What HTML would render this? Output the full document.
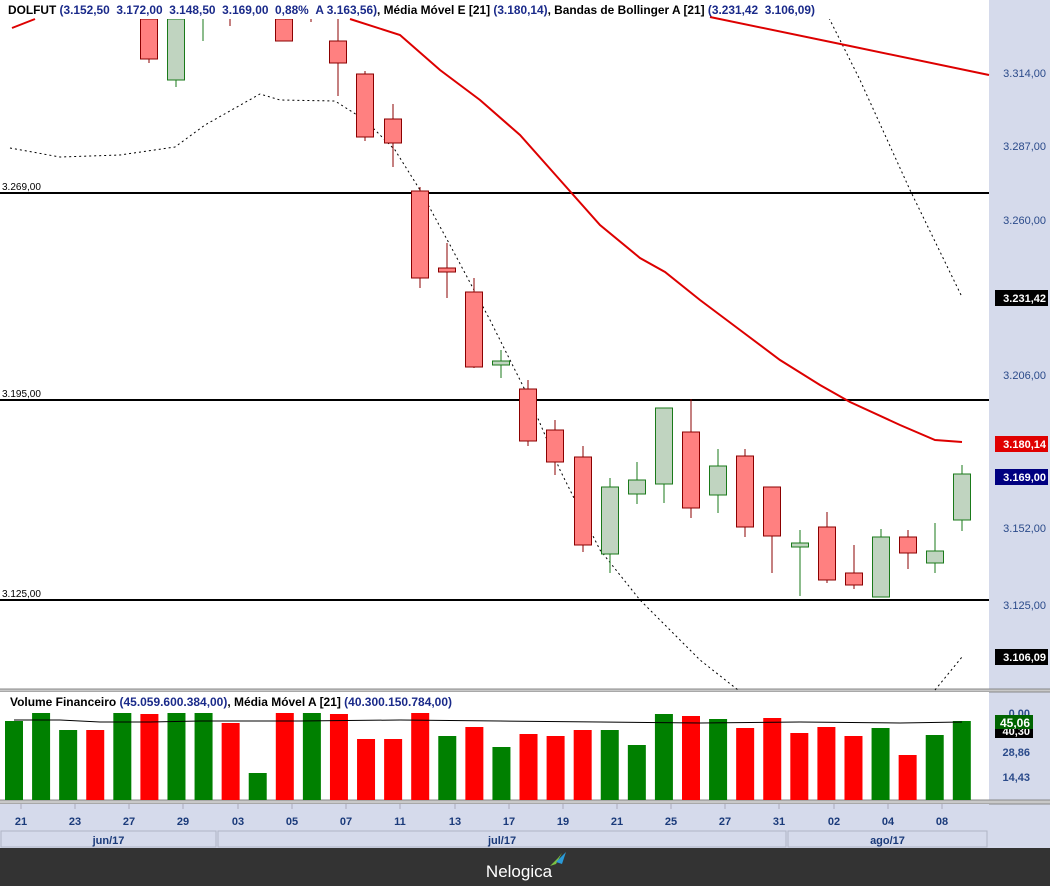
<!DOCTYPE html>
<html><head><meta charset="utf-8"><style>
body{margin:0;width:1050px;height:886px;overflow:hidden;background:#fff;font-family:"Liberation Sans",sans-serif}
svg text{font-family:"Liberation Sans",sans-serif}
</style></head><body>
<svg id="s" width="1050" height="886" xmlns="http://www.w3.org/2000/svg"></svg>
<script>
var o='';
function R(x,y,w,h,f,st){o+='<rect x="'+x+'" y="'+y+'" width="'+w+'" height="'+h+'" fill="'+f+'"'+(st?' stroke="'+st+'" stroke-width="1"':'')+'/>';}
function L(x1,y1,x2,y2,c,w,d){o+='<line x1="'+x1+'" y1="'+y1+'" x2="'+x2+'" y2="'+y2+'" stroke="'+c+'" stroke-width="'+(w||1)+'"'+(d?' stroke-dasharray="'+d+'"':'')+'/>';}
function P(pts,c,w,d){o+='<polyline fill="none" points="'+pts+'" stroke="'+c+'" stroke-width="'+w+'"'+(d?' stroke-dasharray="'+d+'"':'')+'/>';}
function T(x,y,t,c,sz,wt,anc,extra){o+='<text x="'+x+'" y="'+y+'" fill="'+c+'" font-size="'+sz+'" font-weight="'+(wt||'normal')+'" text-anchor="'+(anc||'start')+'"'+(extra||'')+'>'+t+'</text>';}
R(989,0,61,848,'#d5daeb');
R(0,689,1050,3,'#c8c8c8');L(0,689,1050,689,'#888');L(0,692,1050,692,'#888');
R(0,800,1050,4,'#c8c8c8');L(0,800,1050,800,'#888');L(0,804,1050,804,'#888');
R(0,804,989,44,'#d5daeb');
R(0,848,1050,38,'#333333');
[[193,'3.269,00'],[400,'3.195,00'],[600,'3.125,00']].forEach(function(a){L(0,a[0],989,a[0],'#000',2);T(2,a[0]-3,a[1],'#000',10);});
P('10,148 60,157 120,155 175,147 205,125 260,94 280,100 335,101 365,120 395,150 420,190 450,245 490,320 530,400 560,470 600,550 640,600 700,660 738,690','#000',1,'2,3');
P('935,690 962,657','#000',1,'2,3');
P('820,0 860,80 910,190 962,297','#000',1,'2,3');
var c=[
[149,'r',19,59,19,63],[176,'g',19,80,19,87],[203,'w',0,0,19,41],[230,'x',0,0,19,26],[284,'r',19,41,19,41],[311,'x',0,0,19,22],
[338,'r',41,63,19,96],[365,'r',74,137,71,141],[393,'r',119,143,104,167],[420,'r',191,278,187,288],[447,'r',268,272,243,298],
[474,'r',292,367,278,368],[501,'g',361,365,350,378],[528,'r',389,441,380,446],[555,'r',430,462,420,475],[583,'r',457,545,446,552],
[610,'g',487,554,478,573],[637,'g',480,494,462,504],[664,'g',408,484,408,503],[691,'r',432,508,399,518],[718,'g',466,495,449,513],
[745,'r',456,527,449,537],[772,'r',487,536,487,573],[800,'g',543,547,530,596],[827,'r',527,580,512,583],[854,'r',573,585,545,589],
[881,'g',537,597,529,597],[908,'r',537,553,530,569],[935,'g',551,563,523,573],[962,'g',474,520,465,531]];
c.forEach(function(k){var x=k[0],t=k[1];
 var sc=(t=='r'||t=='x')?'#8b0000':'#1a7a1a';
 L(x,k[4],x,k[5],sc,1);
 if(t=='r')R(x-8.5,k[2],17,k[3]-k[2],'#ff8080',sc);
 if(t=='g')R(x-8.5,k[2],17,k[3]-k[2],'#c0d4c0',sc);
});
R(0,0,989,19,'#fff');
P('12,28 35,19','#dd0000',2);
P('350,19 400,35 440,70 480,100 520,135 560,180 600,225 640,258 665,272 700,300 740,330 780,360 820,385 850,402 900,425 935,440 962,442','#dd0000',2);
P('710,17 850,46 989,75','#dd0000',2);
T(8,14,'DOLFUT <tspan fill="#1a2a8a">(3.152,50 &#160;3.172,00 &#160;3.148,50 &#160;3.169,00 &#160;0,88% &#160;A 3.163,56)</tspan>, Média Móvel E [21] <tspan fill="#1a2a8a">(3.180,14)</tspan>, Bandas de Bollinger A [21] <tspan fill="#1a2a8a">(3.231,42 &#160;3.106,09)</tspan>','#000',12,'bold','start',' textLength="807" lengthAdjust="spacingAndGlyphs"');
[[73,'3.314,00'],[146,'3.287,00'],[220,'3.260,00'],[375,'3.206,00'],[528,'3.152,00'],[605,'3.125,00']].forEach(function(a){T(1046,a[0]+4,a[1],'#2a4a8a',11,'normal','end');});
function B(y,t,bg){R(995,y-8,53,16,bg);T(1046,y+4,t,'#fff',11,'bold','end');}
B(298,'3.231,42','#000');B(444,'3.180,14','#e00000');B(477,'3.169,00','#000080');B(657,'3.106,09','#000');
var v=[[721,'g'],[713,'g'],[730,'g'],[730,'r'],[713,'g'],[714,'r'],[713,'g'],[713,'g'],[723,'r'],[773,'g'],[713,'r'],[713,'g'],[714,'r'],[739,'r'],[739,'r'],[713,'r'],[736,'g'],
[727,'r'],[747,'g'],[734,'r'],[736,'r'],[730,'r'],[730,'g'],[745,'g'],[714,'g'],[716,'r'],[719,'g'],[728,'r'],[718,'r'],[733,'r'],[727,'r'],[736,'r'],[728,'g'],[755,'r'],[735,'g'],[721,'g']];
v.forEach(function(b,i){var x=14+27.08*i;R(x-9,b[0],18,800-b[0],b[1]=='g'?'#008000':'#ff0000');});
R(0,692,989,20,'#fff');
P('14,720 60,720 100,722 150,722 200,721 300,721 400,720 500,721 600,722 700,723 800,722 900,723 962,722','#000',1);
T(10,706,'Volume Financeiro <tspan fill="#1a2a8a">(45.059.600.384,00)</tspan>, Média Móvel A [21] <tspan fill="#1a2a8a">(40.300.150.784,00)</tspan>','#000',12,'bold','start',' textLength="442" lengthAdjust="spacingAndGlyphs"');
T(1030,717,'0,00','#2a4a8a',11,'bold','end');
R(995,724,38,14,'#000');T(1030,735,'40,30','#fff',11,'bold','end');
R(995,715,38,14,'#006400');T(1030,727,'45,06','#fff',12,'bold','end');
T(1030,756,'28,86','#2a4a8a',11,'bold','end');
T(1030,781,'14,43','#2a4a8a',11,'bold','end');
var d=[[21,'21'],[75,'23'],[129,'27'],[183,'29'],[238,'03'],[292,'05'],[346,'07'],[400,'11'],[455,'13'],[509,'17'],[563,'19'],[617,'21'],[671,'25'],[725,'27'],[779,'31'],[834,'02'],[888,'04'],[942,'08']];
d.forEach(function(a){L(a[0],804,a[0],809,'#aab',1);T(a[0],825,a[1],'#1a3a7a',11,'bold','middle');});
[[1,216,'jun/17'],[218,786,'jul/17'],[788,987,'ago/17']].forEach(function(m){R(m[0],831,m[1]-m[0],16,'#d5daeb','#b0b4c4');T((m[0]+m[1])/2,844,m[2],'#1a3a7a',11,'bold','middle');});
T(519,877,'Nelogica','#fff',17,'normal','middle');
o+='<polygon points="550,866 558,858 562,853 556,864" fill="#7cc242"/><polygon points="556,862 566,852 562,864" fill="#2a9ad8"/>';
document.getElementById('s').innerHTML=o;
</script>
</body></html>
